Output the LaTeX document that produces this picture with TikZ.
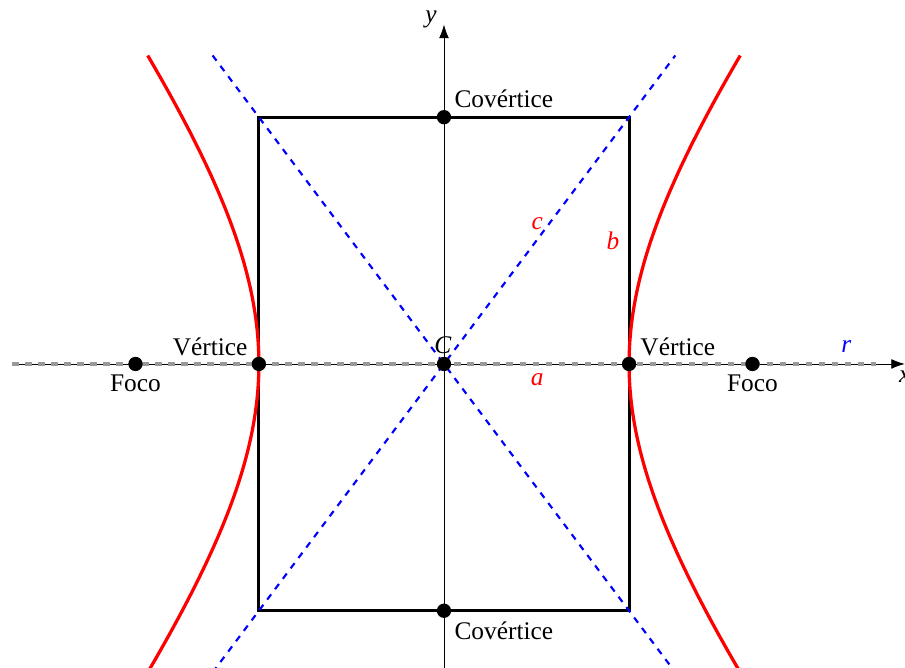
\documentclass[tikz,border=0pt]{standalone}
\usepackage{fontspec}
\setmainfont{Liberation Serif}
\usetikzlibrary{positioning,arrows.meta,calc}
\definecolor{curvered}{HTML}{FF0000}
\definecolor{asymblue}{HTML}{0000FF}
\definecolor{axisgray}{HTML}{999999}
\tikzset{
  dot/.style={circle, fill=black, inner sep=0pt, minimum size=6.6pt},
  lbl/.style={inner sep=2pt, font=\fontsize{11.7}{14}\selectfont},
  redlbl/.style={lbl, text=curvered, font=\fontsize{11.7}{14}\selectfont\itshape},
}

\begin{document}
\begin{tikzpicture}[x=1cm,y=1cm]
\clip (-7.196,-4.927) rectangle (7.472,5.899);
% axes
\coordinate (xl) at (-7,0);
\coordinate (xr) at (7.47,0);
\coordinate (yb) at (0,-5.2);
\coordinate (yt) at (0,5.5);
\draw[-{Latex[length=2.2mm,width=1.6mm]}, line width=0.4pt] (xl) -- (xr);
\draw[-{Latex[length=2.2mm,width=1.6mm]}, line width=0.4pt] (yb) -- (yt);
\node[lbl, font=\fontsize{11.7}{14}\selectfont\itshape] (ylab) at (-0.21,5.58) {y};
\node[lbl, font=\fontsize{11.7}{14}\selectfont\itshape, below=1pt of xr] (xlab) {x};
% line r
\coordinate (rl) at (-7,0);
\coordinate (rr) at (7,0);
\draw[axisgray, line width=1.7pt, dashed] (rl) -- (rr);
% box
\coordinate (Q1) at (3,4);
\coordinate (Q2) at (-3,4);
\coordinate (Q3) at (-3,-4);
\coordinate (Q4) at (3,-4);
\draw[line width=1.4pt] (Q1) -- (Q2) -- (Q3) -- (Q4) -- cycle;
% asymptotes
\coordinate (A1) at (-3.75,-5);
\coordinate (A2) at (3.75,5);
\coordinate (A3) at (-3.75,5);
\coordinate (A4) at (3.75,-5);
\draw[asymblue, line width=1pt, dashed] (A1) -- (A2);
\draw[asymblue, line width=1pt, dashed] (A3) -- (A4);
% hyperbola
\draw[curvered, line width=1.5pt, domain=-5:5, samples=80, smooth, variable=\t] plot ({3*sqrt(1+\t*\t/16)},{\t});
\draw[curvered, line width=1.5pt, domain=-5:5, samples=80, smooth, variable=\t] plot ({-3*sqrt(1+\t*\t/16)},{\t});
% points
\node[dot] (C) at (0,0) {};
\node[dot] (V1) at (-3,0) {};
\node[dot] (V2) at (3,0) {};
\node[dot] (F1) at (-5,0) {};
\node[dot] (F2) at (5,0) {};
\node[dot] (B1) at (0,4) {};
\node[dot] (B2) at (0,-4) {};
% labels
\node[lbl] (labV1) at (-3.79,0.28) {Vértice};
\node[lbl] (labV2) at (3.79,0.28) {Vértice};
\node[lbl] (labF1) at (-5,-0.32) {Foco};
\node[lbl] (labF2) at (5,-0.32) {Foco};
\node[lbl] (labB1) at (0.97,4.29) {Covértice};
\node[lbl] (labB2) at (0.97,-4.33) {Covértice};
\node[lbl, font=\fontsize{11.7}{14}\selectfont\itshape] (labC) at (-0.02,0.31) {C};
\node[redlbl] (laba) at (1.51,-0.26) {a};
\node[redlbl] (labb) at (2.74,1.99) {b};
\node[redlbl] (labc) at (1.51,2.27) {c};
\node[lbl, text=asymblue, font=\fontsize{11.7}{14}\selectfont\itshape] (labr) at (6.52,0.28) {r};
\end{tikzpicture}
\end{document}
